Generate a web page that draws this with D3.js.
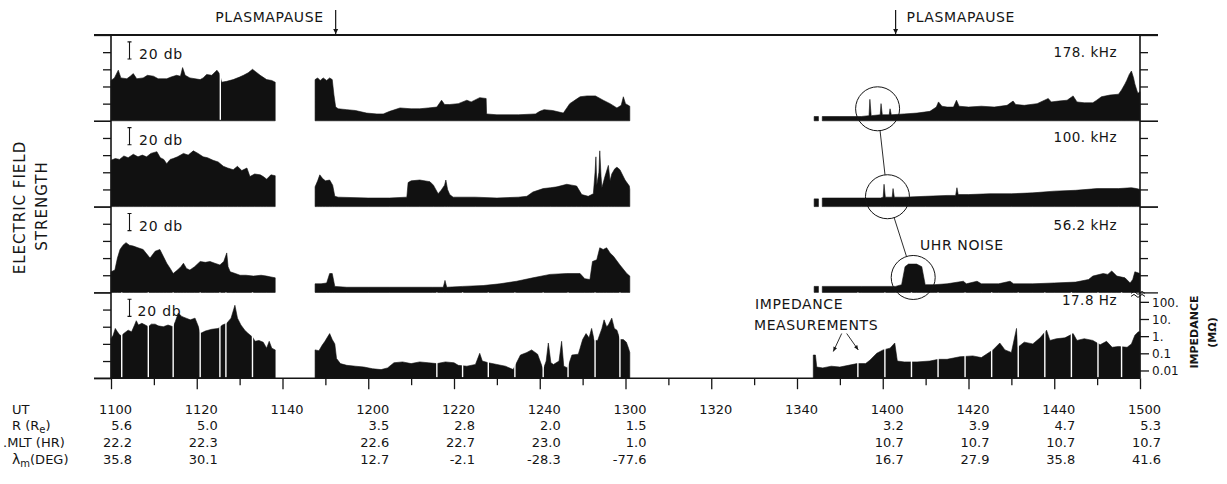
<!DOCTYPE html>
<html>
<head>
<meta charset="utf-8">
<script src="https://cdn.jsdelivr.net/npm/d3@7/dist/d3.min.js"></script>
<style>
  body { margin: 0; background: #fff; }
  text { font-family: "DejaVu Sans", sans-serif; fill: #151515; }
  .tick line, .rule { stroke: #151515; }
</style>
</head>
<body>
<svg id="chart" width="1227" height="484"></svg>
<script>
// time is minutes after 1100 UT, values are dB above panel floor (20 db per tick)
var utLabels = ["1100", "1120", "1140", "1200", "1220", "1240", "1300", "1320", "1340", "1400", "1420", "1440", "1500"]
var rValues = ["5.6", "5.0", "", "3.5", "2.8", "2.0", "1.5", "", "", "3.2", "3.9", "4.7", "5.3"]
var mltValues = ["22.2", "22.3", "", "22.6", "22.7", "23.0", "1.0", "", "", "10.7", "10.7", "10.7", "10.7"]
var latValues = ["35.8", "30.1", "", "12.7", "-2.1", "-28.3", "-77.6", "", "", "16.7", "27.9", "35.8", "41.6"]
var panelNames = ["178. kHz", "100. kHz", "56.2 kHz", "17.8 Hz"]
var impTicks = [0.01, 0.1, 1, 10, 100]
var impLabels = ["0.01", "0.1", "1.", "10.", "100."]
var plasmapause = [52.4, 183.0]

var seg178 = [
  [[0, 47], [0.8, 50], [1.7, 59], [2.3, 50], [3.7, 49], [4.5, 52], [5.2, 55], [6, 49], [7.5, 50], [8.5, 53], [9.9, 52], [11, 49], [13, 49], [14, 51], [15.3, 53], [16.2, 52], [16.7, 62], [17.3, 53], [18.4, 50], [20.8, 48], [21.5, 50], [22.3, 54], [23.5, 53], [24.7, 59], [25.3, 55], [25.8, 45], [27, 46], [28.5, 48], [30, 51], [30.9, 53], [32, 56], [33, 60], [33.8, 57], [34.8, 53], [36.3, 48], [37.5, 47], [38.3, 45]],
  [[47.6, 48], [48.2, 50], [48.8, 47], [49.5, 50], [50.3, 47], [51, 50], [51.6, 48], [52, 30], [52.4, 16], [53, 14], [55, 13], [57, 12], [59.6, 9], [62, 8], [63.5, 8], [65, 11], [67.4, 15], [70, 14], [72, 14], [74, 15], [76, 16], [77.1, 24], [77.8, 19], [79, 19], [81, 20], [83, 24], [84, 22], [86, 27], [87.5, 26], [87.6, 8], [90, 7], [95, 7], [99, 8], [100, 11], [101, 13], [103, 12], [105.5, 9], [107, 20], [108.5, 25], [109.4, 28], [111, 29], [113, 29], [114.8, 24], [116.4, 20], [118, 15], [119, 18], [119.5, 28], [120, 20], [121, 17]],
  [[164.0, 5], [165.0, 5]],
  [[165.9, 5], [170, 5], [175, 5], [176.8, 6], [177, 25], [177.3, 6], [179.4, 7], [179.6, 20], [179.9, 7], [181.5, 7], [181.7, 14], [182, 7], [185, 8], [188, 9], [191, 11], [192.5, 16], [193, 22], [193.8, 17], [195, 16], [196.5, 16], [197.2, 24], [197.8, 17], [200, 16], [203, 17], [206, 16], [209, 18], [210.4, 23], [211, 19], [213, 18], [216, 20], [218.6, 26], [219.3, 22], [221, 23], [223, 24], [224.4, 29], [225.3, 22], [227, 21], [229, 21], [229.9, 24], [231, 28], [233, 30], [235, 31], [235.7, 36], [236.5, 43], [236.9, 47], [237.5, 54], [238, 58], [238.5, 50], [238.8, 43], [239.3, 35], [239.5, 32], [240, 34]]
]

var seg100 = [
  [[0, 54], [1, 56], [2, 55], [3, 59], [4, 57], [5.2, 61], [6.3, 58], [7.3, 60], [8.3, 58], [9.3, 62], [10.7, 64], [11.5, 57], [12.3, 55], [13, 50], [13.8, 55], [14.5, 56], [15.5, 58], [16.9, 62], [18, 60], [19.2, 65], [20.3, 62], [21.5, 58], [22.5, 57], [23.8, 54], [25, 52], [26.2, 47], [27.2, 45], [28.5, 43], [29.5, 47], [30.5, 42], [31.7, 45], [32.4, 35], [33.5, 38], [34.8, 37], [35.5, 35], [36.3, 32], [37.3, 37], [38.3, 36]],
  [[47.6, 23], [48.2, 30], [48.7, 37], [49.3, 33], [50, 30], [51, 31], [51.7, 25], [52.2, 12], [53, 11], [60, 10], [65, 10], [69, 11], [69.3, 28], [70, 30], [72, 31], [74.4, 29], [75.2, 25], [76.3, 15], [77, 19], [77.8, 25], [78.1, 31], [78.5, 20], [79, 14], [79.8, 11], [85, 11], [90, 10], [95, 11], [97, 12], [98.4, 17], [100.8, 21], [102.5, 22], [104, 23], [106.3, 26], [107.5, 25], [108.6, 24], [109.8, 14], [111.3, 12], [112.5, 15], [112.9, 40], [113.1, 58], [113.3, 25], [113.8, 40], [114, 65], [114.3, 35], [114.5, 22], [115.2, 35], [116, 48], [116.4, 30], [116.8, 38], [117.5, 44], [118, 46], [118.7, 43], [119.9, 31], [120.9, 24], [121, 20]],
  [[164.0, 9], [165.0, 9]],
  [[165.9, 10], [170, 10], [175, 10], [179.5, 10], [180.1, 11], [180.3, 26], [180.6, 11], [182.2, 11], [182.4, 21], [182.7, 11], [185, 11], [190, 12], [195, 13], [197, 13], [197.3, 22], [197.6, 14], [200, 14], [205, 15], [210, 15], [215, 16], [220, 18], [225, 19], [230, 21], [235, 21], [238, 22], [239.2, 21], [240, 20]]
]

var seg56 = [
  [[0, 24], [0.9, 26], [1.5, 40], [2.1, 50], [2.8, 55], [3.5, 58], [4.3, 55], [5.2, 54], [6.3, 52], [7.5, 50], [8.3, 45], [9.1, 40], [10.3, 48], [11.4, 50], [12.2, 42], [13, 34], [13.8, 28], [14.5, 22], [15.5, 26], [16.3, 30], [16.9, 34], [17.6, 28], [18.4, 26], [19.5, 30], [20.8, 36], [22, 35], [23.1, 36], [24.2, 34], [25.4, 32], [26.3, 36], [27, 46], [27.3, 30], [27.8, 24], [29, 22], [30.1, 20], [31.5, 20], [33.2, 19], [35, 20], [36.3, 19], [37.3, 18], [38.3, 17]],
  [[47.6, 10], [49, 10], [50.3, 11], [51, 22], [51.6, 22], [52.2, 7], [55, 6], [60, 6], [65, 6], [70, 6], [75, 6], [77.5, 6], [77.9, 14], [78.3, 6], [82, 7], [86.8, 8], [90.7, 10], [94.6, 13], [98.4, 17], [102.4, 21], [106.3, 22], [109.4, 22], [110.5, 16], [111.7, 15], [112.3, 36], [113.3, 38], [114, 52], [114.8, 50], [115.6, 52], [116.4, 46], [117.2, 42], [118.7, 32], [120.3, 22], [121, 19]],
  [[164.0, 7], [165.0, 7]],
  [[165.9, 7], [175, 7], [183, 7], [184.4, 9], [185.2, 30], [186, 33], [187.9, 33], [189.1, 30], [189.9, 9], [192, 9], [195, 10], [198.8, 13], [199.5, 10], [202, 13], [203, 10], [207, 10], [209.7, 13], [210.5, 10], [215, 10], [220, 11], [225, 12], [228, 15], [229, 19], [231.4, 22], [232.5, 21], [233.4, 25], [234.6, 19], [236.5, 17], [237.7, 11], [238.3, 15], [238.8, 24], [240, 22]]
]

var seg17 = [
  [[0, 46], [0.5, 50], [1, 58], [1.5, 54], [2.1, 50], [2.5, 50], [3.2, 53], [4, 56], [4.8, 54], [5.5, 62], [5.9, 67], [6.4, 62], [7.2, 64], [8, 62], [8.7, 60], [9.4, 63], [10.3, 63], [11, 61], [12.2, 60], [13.3, 62], [14.5, 60], [15, 66], [15.7, 76], [16.5, 72], [17.5, 70], [18.5, 68], [19.6, 70], [20.4, 60], [20.8, 52], [22, 55], [23.5, 57], [25, 58], [26, 62], [27, 64], [28, 70], [28.9, 85], [29.5, 70], [30.3, 62], [31.2, 56], [32, 52], [33, 48], [33.6, 43], [34.5, 44], [35.5, 42], [36.3, 35], [36.9, 43], [37.5, 35], [38.3, 33]],
  [[47.6, 33], [48.5, 32], [49.2, 38], [49.9, 43], [50.5, 48], [51, 52], [51.6, 45], [52.2, 40], [52.6, 23], [53.5, 17], [55, 15], [57, 14], [59, 13], [61, 11], [63, 10], [64.5, 12], [66, 18], [68, 19], [70, 17], [72, 19], [74, 18], [76, 17], [78, 19], [80, 18], [81, 15], [83, 14], [85, 16], [86, 29], [86.6, 20], [88, 18], [90, 16], [92, 14], [93.8, 10], [95.5, 27], [97, 30], [98.1, 33], [99.5, 28], [100.8, 10], [101.5, 20], [102, 41], [102.6, 18], [103.2, 16], [104.5, 20], [105.1, 43], [105.6, 14], [106.5, 12], [107.5, 27], [109, 28], [110, 45], [110.8, 52], [111.5, 47], [112.1, 58], [112.7, 44], [113.5, 44], [114.5, 58], [115, 68], [115.6, 60], [116, 62], [116.8, 70], [117.4, 58], [118, 56], [118.7, 45], [119.5, 45], [120.2, 42], [120.7, 35], [121, 30]],
  [[163.8, 27], [164.3, 27], [164.6, 13], [166, 12], [168, 14], [170, 13], [172, 15], [174, 17], [176, 17], [177, 21], [178.6, 29], [180.1, 33], [181.7, 35], [182.8, 41], [183.4, 20], [185, 19], [188, 19], [191, 20], [193, 22], [195, 22], [198, 25], [201, 26], [203, 24], [205.7, 33], [207.3, 41], [208.5, 33], [210, 30], [211.2, 58], [211.5, 36], [213, 42], [215, 40], [216.7, 47], [218.2, 56], [219, 44], [220.5, 46], [222.5, 47], [224.4, 52], [225.3, 44], [227, 46], [229, 44], [230.7, 39], [232.2, 43], [233.5, 36], [235, 37], [237, 36], [238, 40], [238.8, 50], [239.6, 54], [240, 54]]
]

// white gaps: impedance measurement instants (17.8 Hz) and one dropout at 178 kHz
var impedanceTimes = [2.5, 8.7, 14.5, 20.8, 25.4, 26.8, 33.0, 76, 82, 88, 94.2, 100.8, 106.6, 112.9, 118.7, 174.2, 180.5, 186.7, 192.9, 199.2, 205.4, 211.6, 217.8, 224, 230.2, 235.7]
var gaps178 = [25.5]

// circled UHR features: [minute, dB]
var uhrCircles = [[178.8, 14], [181.1, 11.5], [187.1, 17.4]]

var allSegs = [seg178, seg100, seg56, seg17]
var allGaps = [gaps178, [], [], impedanceTimes]

var svg = d3.select("#chart")
var top0 = 35
var panelH = 85.8
var xLeft = 111, xRight = 1140

var x = d3.scaleLinear().domain([0, 240]).range([xLeft, xRight])

var yScales = panelNames.map(function (n, i) {
  var t = top0 + i * panelH
  return d3.scaleLinear().domain([0, 100]).range([t + panelH, t])
})

// fills
allSegs.forEach(function (segs, i) {
  var y = yScales[i]
  var area = d3.area()
    .x(function (d) { return x(d[0]) })
    .y0(y(0))
    .y1(function (d) { return y(d[1]) })
  svg.append("g").selectAll("path")
    .data(segs)
    .enter().append("path")
    .attr("d", area)
    .attr("fill", "#111")
    .attr("stroke", "#111")
    .attr("stroke-width", 0.6)

  svg.append("g").selectAll("line")
    .data(allGaps[i])
    .enter().append("line")
    .attr("x1", function (d) { return x(d) })
    .attr("x2", function (d) { return x(d) })
    .attr("y1", y(0) - 1)
    .attr("y2", y(100))
    .attr("stroke", "#fff")
    .attr("stroke-width", 1.4)
})

function noDomain(g) { g.select(".domain").remove() }

// left/right panel ticks
yScales.forEach(function (y, i) {
  svg.append("g").attr("transform", "translate(" + xLeft + ",0)")
    .call(d3.axisLeft(y).tickValues([20, 40, 60, 80]).tickSize(8).tickFormat(""))
    .call(noDomain)
  svg.append("g").attr("transform", "translate(" + xLeft + ",0)")
    .call(d3.axisLeft(y).tickValues([0, 100]).tickSize(17).tickFormat(""))
    .call(noDomain)
  if (i < 3) {
    svg.append("g").attr("transform", "translate(" + xRight + ",0)")
      .call(d3.axisRight(y).tickValues([20, 40, 60, 80]).tickSize(8).tickFormat(""))
      .call(noDomain)
    svg.append("g").attr("transform", "translate(" + xRight + ",0)")
      .call(d3.axisRight(y).tickValues([0, 100]).tickSize(18).tickFormat(""))
      .call(noDomain)
  }
})
svg.selectAll(".tick line").attr("stroke-width", 1.3)

// impedance axis on the last panel
var y4 = yScales[3]
var imp = d3.scaleLog().domain([0.01, 100]).range([y4(9), y4(89)])
svg.append("g").attr("transform", "translate(" + xRight + ",0)")
  .call(d3.axisRight(imp).tickValues(impTicks).tickSize(9).tickPadding(3)
    .tickFormat(function (d, i) { return impLabels[i] }))
  .call(noDomain)
  .selectAll("text").style("font-size", "12px").attr("dy", "0.35em")

// frame
var bottomY = y4(0)
svg.append("line").attr("class", "rule")
  .attr("x1", 94).attr("x2", 1158).attr("y1", top0).attr("y2", top0).attr("stroke-width", 2.2)
svg.append("line").attr("class", "rule")
  .attr("x1", xLeft).attr("x2", xLeft).attr("y1", top0).attr("y2", bottomY).attr("stroke-width", 1.6)
svg.append("line").attr("class", "rule")
  .attr("x1", xRight).attr("x2", xRight).attr("y1", top0).attr("y2", bottomY).attr("stroke-width", 1.6)
svg.append("line").attr("class", "rule")
  .attr("x1", 94).attr("x2", xRight).attr("y1", bottomY).attr("y2", bottomY).attr("stroke-width", 1.6)

// break mark at top of impedance axis
;[0, 3].forEach(function (o) {
  svg.append("path")
    .attr("d", "M" + (xRight - 9) + "," + (y4(100) + 1 + o) + " l3,-2 l4,3 l4,-3 l3,2")
    .attr("fill", "none").attr("stroke", "#151515").attr("stroke-width", 1)
})

// bottom time axis
svg.append("g").attr("transform", "translate(0," + bottomY + ")")
  .call(d3.axisBottom(x).tickValues(d3.range(10, 240, 20)).tickSize(7).tickFormat(""))
  .call(noDomain)
svg.append("g").attr("transform", "translate(0," + bottomY + ")")
  .call(d3.axisBottom(x).tickValues(d3.range(0, 241, 20)).tickSize(11).tickFormat(""))
  .call(noDomain)
svg.selectAll(".tick line").attr("stroke-width", 1.3)

// table under axis
var rows = [
  { vals: utLabels, y: 413.5 },
  { vals: rValues, y: 430 },
  { vals: mltValues, y: 447 },
  { vals: latValues, y: 464 }
]
rows.forEach(function (r) {
  svg.append("g").selectAll("text")
    .data(r.vals)
    .enter().append("text")
    .attr("x", function (d, i) { return x(i * 20) + 21 })
    .attr("y", r.y)
    .attr("text-anchor", "end")
    .style("font-size", "13px")
    .text(function (d) { return d })
})

var rowLab = svg.append("g").style("font-size", "13px")
rowLab.append("text").attr("x", 12).attr("y", 413.5).text("UT")
var rl = rowLab.append("text").attr("x", 12).attr("y", 430)
rl.append("tspan").text("R (R")
rl.append("tspan").attr("dy", 3).style("font-size", "10px").text("e")
rl.append("tspan").attr("dy", -3).text(")")
rowLab.append("text").attr("x", 3).attr("y", 447).text(".MLT (HR)")
var ll = rowLab.append("text").attr("x", 12).attr("y", 464)
ll.append("tspan").style("font-size", "14px").text("λ")
ll.append("tspan").attr("dy", 3).style("font-size", "10px").text("m")
ll.append("tspan").attr("dy", -3).text("(DEG)")

// panel labels
var nameDy = [21.7, 21, 23.4, 12.6]
yScales.forEach(function (y, i) {
  svg.append("text")
    .attr("x", 1117).attr("y", y(100) + nameDy[i])
    .attr("text-anchor", "end")
    .style("font-size", "13.5px")
    .style("letter-spacing", "0.5px")
    .text(panelNames[i])

  var bx = 129.5
  svg.append("path")
    .attr("d", "M" + (bx - 2) + "," + y(92) + "h4M" + bx + "," + y(92) + "V" + y(72) + "M" + (bx - 2) + "," + y(72) + "h4")
    .attr("stroke", "#151515").attr("stroke-width", 1.1).attr("fill", "none")
  svg.append("text")
    .attr("x", i == 3 ? 137.5 : 139).attr("y", y(72))
    .style("font-size", "14px")
    .style("letter-spacing", "0.8px")
    .text("20 db")
})

// plasmapause markers
plasmapause.forEach(function (t, i) {
  svg.append("line").attr("class", "rule")
    .attr("x1", x(t)).attr("x2", x(t)).attr("y1", 10).attr("y2", top0 - 1)
    .attr("stroke-width", 1.2)
  svg.append("path")
    .attr("d", "M" + (x(t) - 2.5) + "," + (top0 - 6) + "L" + x(t) + "," + (top0 - 1) + "L" + (x(t) + 2.5) + "," + (top0 - 6) + "Z")
    .attr("fill", "#151515")
  svg.append("text")
    .attr("x", i == 0 ? x(t) - 12 : x(t) + 11).attr("y", 22)
    .attr("text-anchor", i == 0 ? "end" : "start")
    .style("font-size", "14px")
    .style("letter-spacing", "0.6px")
    .text("PLASMAPAUSE")
})

// UHR circles and connectors
var cpts = uhrCircles.map(function (c, i) { return [x(c[0]), yScales[i](c[1])] })
var rad = 22
cpts.forEach(function (p) {
  svg.append("circle").attr("cx", p[0]).attr("cy", p[1]).attr("r", rad)
    .attr("fill", "none").attr("stroke", "#151515").attr("stroke-width", 1)
})
for (var k = 0; k < 2; k++) {
  var a = cpts[k], b = cpts[k + 1]
  var dx = b[0] - a[0], dy = b[1] - a[1], L = Math.sqrt(dx * dx + dy * dy)
  svg.append("line")
    .attr("x1", a[0] + rad * dx / L).attr("y1", a[1] + rad * dy / L)
    .attr("x2", b[0] - rad * dx / L).attr("y2", b[1] - rad * dy / L)
    .attr("stroke", "#151515").attr("stroke-width", 0.9)
}
svg.append("text").attr("x", 920).attr("y", 250)
  .style("font-size", "14px").style("letter-spacing", "0.6px").text("UHR NOISE")

// impedance measurement note
svg.append("text").attr("x", 755).attr("y", 309)
  .style("font-size", "14px").style("letter-spacing", "0.6px").text("IMPEDANCE")
svg.append("text").attr("x", 754).attr("y", 330)
  .style("font-size", "14px").style("letter-spacing", "0.6px").text("MEASUREMENTS")
var arrows = [[[841.7, 333.5], [833.3, 351.5]], [[846.7, 333.5], [858.3, 350]]]
arrows.forEach(function (ar) {
  var p = ar[0], q = ar[1]
  var ang = Math.atan2(q[1] - p[1], q[0] - p[0])
  svg.append("line").attr("x1", p[0]).attr("y1", p[1]).attr("x2", q[0]).attr("y2", q[1])
    .attr("stroke", "#151515").attr("stroke-width", 0.9)
  var h1 = [q[0] - 5 * Math.cos(ang - 0.4), q[1] - 5 * Math.sin(ang - 0.4)]
  var h2 = [q[0] - 5 * Math.cos(ang + 0.4), q[1] - 5 * Math.sin(ang + 0.4)]
  svg.append("path").attr("d", "M" + q + "L" + h1 + "L" + h2 + "Z").attr("fill", "#151515")
})

// side titles
svg.append("text").attr("transform", "translate(24.5,207.5) rotate(-90)")
  .attr("text-anchor", "middle").style("font-size", "15px").style("letter-spacing", "1px")
  .text("ELECTRIC FIELD")
svg.append("text").attr("transform", "translate(46.5,206) rotate(-90)")
  .attr("text-anchor", "middle").style("font-size", "15px").style("letter-spacing", "1px")
  .text("STRENGTH")
svg.append("text").attr("transform", "translate(1197.5,332) rotate(-90)")
  .attr("text-anchor", "middle").style("font-size", "11px").style("font-weight", "bold")
  .text("IMPEDANCE")
svg.append("text").attr("transform", "translate(1215.5,332.5) rotate(-90)")
  .attr("text-anchor", "middle").style("font-size", "11px").style("font-weight", "bold")
  .text("(MΩ)")
</script>
</body>
</html>
